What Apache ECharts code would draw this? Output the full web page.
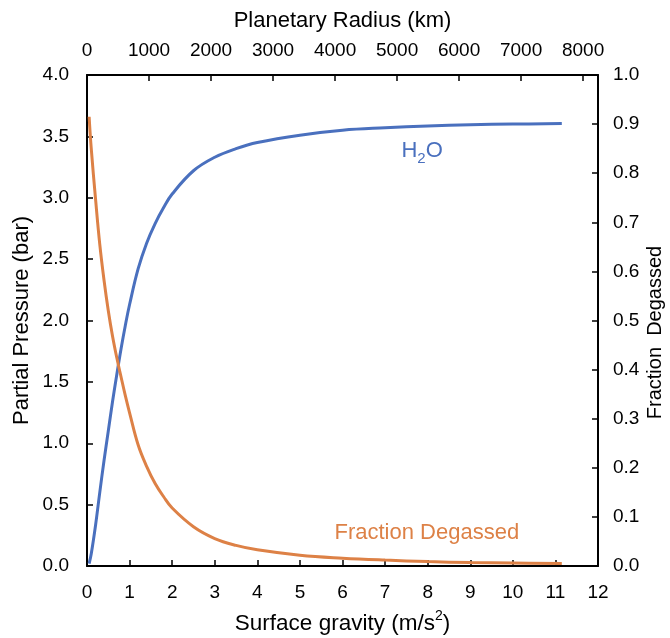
<!DOCTYPE html>
<html>
<head>
<meta charset="utf-8">
<script src="https://cdn.jsdelivr.net/npm/echarts@6/dist/echarts.min.js"></script>
<style>html,body{margin:0;padding:0;background:#fff}#c{width:670px;height:638px}</style>
</head>
<body>
<div id="c"></div>
<script>
const gravity = [0.05,0.1,0.2,0.3,0.4,0.5,0.6,0.7,0.8,0.9,1.0,1.2,1.4,1.6,1.8,2.0,2.5,3.0,3.5,4.0,5,6,7,8,9,10,11.15];
const h2oPressure = [0.02,0.1,0.33,0.6,0.86,1.1,1.34,1.56,1.77,1.96,2.13,2.42,2.63,2.79,2.92,3.03,3.22,3.33,3.40,3.45,3.51,3.55,3.57,3.585,3.595,3.60,3.605];
const fractionDegassed = [0.915,0.85,0.748,0.655,0.582,0.52,0.468,0.424,0.385,0.347,0.312,0.247,0.203,0.168,0.141,0.118,0.08,0.056,0.042,0.033,0.022,0.016,0.012,0.009,0.007,0.006,0.005];
const gravityTicks = {min:0, max:12, interval:1};
const radiusTicks = {min:0, max:8240, interval:1000};
const pressureTicks = {min:0, max:4, interval:0.5};
const fractionTicks = {min:0, max:1, interval:0.1};

const blue = '#4a70be', orange = '#dd8146';
const font = '"Liberation Sans", Arial, sans-serif';
const lbl = {color:'#000', fontSize:19, fontFamily:font};
const nm = {color:'#000', fontSize:22, fontFamily:font};
const line = {show:true, onZero:false, lineStyle:{color:'#000', width:2}};
const tick = {show:true, inside:true, length:6, lineStyle:{color:'#000', width:1.5}};

const chart = echarts.init(document.getElementById('c'), null, {renderer:'canvas'});
chart.setOption({
  animation:false,
  backgroundColor:'#fff',
  grid:{left:87, right:72, top:75, bottom:72, containLabel:false, outerBoundsMode:'none'},
  xAxis:[
    {type:'value', position:'bottom', ...gravityTicks,
     name:'{n|Surface gravity (m/s}{s|2}{n|)}', nameLocation:'middle', nameGap:43, nameMoveOverlap:false,
     nameTextStyle:{...nm, rich:{
       n:{color:'#000', fontSize:22.5, fontFamily:font, lineHeight:26, verticalAlign:'bottom'},
       s:{color:'#000', fontSize:14, fontFamily:font, lineHeight:26, verticalAlign:'top', padding:[0,0,10,0]}}},
     axisLine:line, axisTick:tick, splitLine:{show:false},
     axisLabel:{...lbl, margin:17}},
    {type:'value', position:'top', ...radiusTicks,
     name:'Planetary Radius (km)', nameLocation:'middle', nameGap:43, nameMoveOverlap:false, nameTextStyle:nm,
     axisLine:line, axisTick:tick, splitLine:{show:false},
     axisLabel:{...lbl, margin:15, showMaxLabel:false, formatter:v=>String(v)}}
  ],
  yAxis:[
    {type:'value', position:'left', ...pressureTicks,
     name:'Partial Pressure (bar)', nameLocation:'middle', nameGap:54, nameRotate:90, nameMoveOverlap:false,
     nameTextStyle:nm,
     axisLine:line, axisTick:tick, splitLine:{show:false},
     axisLabel:{...lbl, margin:18, formatter:v=>v.toFixed(1)}},
    {type:'value', position:'right', ...fractionTicks,
     name:'Fraction  Degassed', nameLocation:'middle', nameGap:47, nameRotate:90, nameMoveOverlap:false,
     nameTextStyle:{...nm, fontSize:20, padding:[0,24,0,0]},
     axisLine:line, axisTick:tick, splitLine:{show:false},
     axisLabel:{...lbl, margin:15, formatter:v=>v.toFixed(1)}}
  ],
  series:[
    {type:'line', xAxisIndex:0, yAxisIndex:0, showSymbol:false, smooth:0.4,
     data:gravity.map((g,i)=>[g,h2oPressure[i]]),
     lineStyle:{color:blue, width:3}, itemStyle:{color:blue},
     markPoint:{symbolSize:0, data:[{coord:[7.87,3.38]}],
       label:{show:true, position:'inside', formatter:'{n|H}{s|2}{n|O}',
         rich:{n:{color:blue, fontSize:22, fontFamily:font, lineHeight:30, verticalAlign:'middle'},
               s:{color:blue, fontSize:15, fontFamily:font, lineHeight:30, verticalAlign:'bottom', padding:[10,0,0,0]}}}}},
    {type:'line', xAxisIndex:0, yAxisIndex:1, showSymbol:false, smooth:0.4,
     data:gravity.map((g,i)=>[g,fractionDegassed[i]]),
     lineStyle:{color:orange, width:3}, itemStyle:{color:orange},
     markPoint:{symbolSize:0, data:[{coord:[7.98,0.067]}],
       label:{show:true, position:'inside', formatter:'Fraction Degassed', color:orange, fontSize:22, fontFamily:font}}}
  ]
});
</script>
</body>
</html>
